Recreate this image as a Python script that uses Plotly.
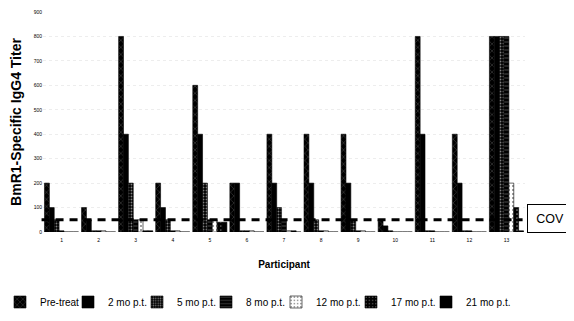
import plotly.graph_objects as go

participants = [str(i) for i in range(1, 14)]
series_names = ["Pre-treat", "2 mo p.t.", "5 mo p.t.", "8 mo p.t.", "12 mo p.t.", "17 mo p.t.", "21 mo p.t."]
pre_treat = [200, 100, 800, 200, 600, 200, 400, 400, 400, 50, 800, 400, 800]
mo2 = [100, 50, 400, 100, 400, 200, 200, 200, 200, 25, 400, 200, 800]
mo5 = [50, 5, 200, 50, 200, 5, 100, 50, 50, 5, 5, 5, 800]
mo8 = [5, 5, 50, 5, 50, 5, 50, 5, 5, 0, 5, 5, 800]
mo12 = [0, 5, 50, 5, 50, 5, 5, 5, 5, 0, 0, 0, 200]
mo17 = [0, 0, 5, 0, 40, 0, 5, 0, 0, 0, 0, 0, 100]
mo21 = [0, 0, 5, 0, 40, 0, 0, 0, 0, 0, 0, 0, 5]
cov_value = 50
y_ticks = [0, 100, 200, 300, 400, 500, 600, 700, 800, 900]

values = [pre_treat, mo2, mo5, mo8, mo12, mo17, mo21]
patterns = [
    dict(shape="x", bgcolor="black", fgcolor="white", size=5, solidity=0.12),
    dict(shape="", bgcolor="black", fgcolor="black"),
    dict(shape=".", bgcolor="black", fgcolor="white", size=3, solidity=0.3),
    dict(shape="-", bgcolor="black", fgcolor="white", size=4, solidity=0.15),
    dict(shape=".", bgcolor="white", fgcolor="black", size=4, solidity=0.2),
    dict(shape=".", bgcolor="black", fgcolor="white", size=4, solidity=0.15),
    dict(shape="", bgcolor="black", fgcolor="black"),
]
colors = ["black", "black", "black", "black", "white", "black", "black"]

font_family = "Liberation Sans, Arial, sans-serif"
fig = go.Figure()
for i, (name, vals) in enumerate(zip(series_names, values)):
    fig.add_trace(go.Bar(
        x=participants, y=vals, name=name,
        marker=dict(color=colors[i], pattern=patterns[i], line=dict(color="black", width=0.6)),
        legend="legend" if i == 0 else f"legend{i+1}",
    ))

# page body has an 8px margin: work in figure pixels = window pixels - 8
off = 8
W, H = 574 - off, 321 - off
plot_l, plot_r, plot_t, plot_b = 43 - off, 525 - off, 12 - off, 232 - off
pw = plot_r - plot_l
ph = plot_b - plot_t
text_px = [40, 108, 177, 246, 316, 391, 466]
legend_layouts = {}
for i, tx in enumerate(text_px):
    key = "legend" if i == 0 else f"legend{i+1}"
    legend_layouts[key] = dict(
        x=(tx - off - 40 - plot_l) / pw, xanchor="left",
        y=(plot_b - (302 - off)) / ph, yanchor="middle",
        orientation="h", bgcolor="rgba(0,0,0,0)",
        font=dict(family=font_family, size=10, color="black"),
        itemwidth=30, tracegroupgap=0,
    )

fig.add_shape(type="line", xref="paper", yref="y", x0=-0.003, x1=0.995, y0=cov_value, y1=cov_value,
              line=dict(color="black", width=3, dash="8px,6px"))
fig.add_annotation(text="COV", xref="paper", yref="paper", xanchor="center", yanchor="middle",
                   x=(550 - off - plot_l) / pw, y=(plot_b - (218 - off)) / ph, showarrow=False,
                   font=dict(family=font_family, size=12.5, color="black"),
                   bordercolor="black", borderwidth=1, width=42, height=25, bgcolor="white")

fig.update_layout(
    width=W, height=H,
    margin=dict(l=plot_l, r=W - plot_r, t=plot_t, b=H - plot_b, autoexpand=False),
    paper_bgcolor="white", plot_bgcolor="white",
    barmode="group", bargap=0.08, bargroupgap=0,
    showlegend=True,
    font=dict(family=font_family, color="black"),
    xaxis=dict(
        type="category", tickfont=dict(size=5), ticks="", showline=False, showgrid=False,
        ticklabelstandoff=4,
        title=dict(text="<b>Participant</b>", font=dict(size=10), standoff=18),
        automargin=False,
    ),
    yaxis=dict(
        range=[0, 900], tickvals=y_ticks, tickfont=dict(size=5), ticks="",
        showline=False, showgrid=True, gridcolor="#ededed", griddash="dot", gridwidth=1,
        zeroline=False,
        title=dict(text="<b>BmR1-Specific IgG4 Titer</b>", font=dict(size=14), standoff=12),
        automargin=False,
    ),
    **legend_layouts,
)

fig.write_html("out.html")
